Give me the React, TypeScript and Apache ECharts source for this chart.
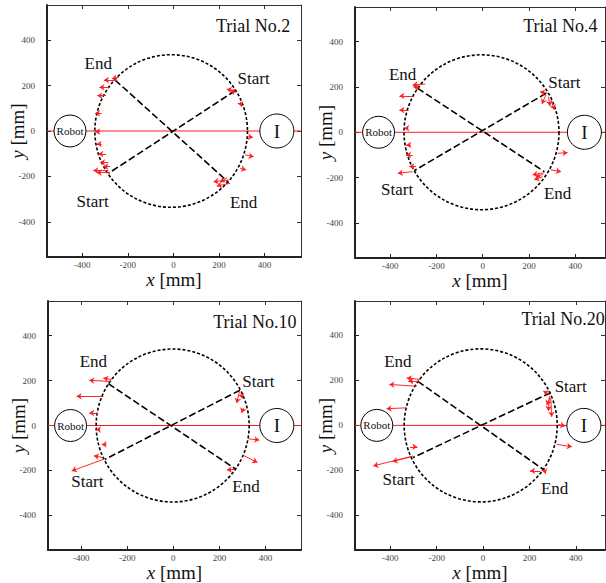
import React, { useEffect, useRef } from "react";
import * as echarts from "echarts";

const FONT = "Liberation Serif, Times New Roman, serif";

// ---- data (mm) ----
const trialTitles = ["Trial No.2", "Trial No.4", "Trial No.10", "Trial No.20"];
const tickValues = [-400, -200, 0, 200, 400];

// dashed path circle: [cx, cy, r]
const pathCircles = [
  [-10, 0, 335],
  [-5, 0, 335],
  [-3, 0, 332],
  [-10, 0, 330],
];

// straight trajectories: [x1, y1, x2, y2]
const cross2 = [[-256, 224, 239, -223], [271, 177, -285, -186]];
const cross4 = [[-281, 194, 267, -174], [274, 172, -295, -169]];
const cross10 = [[-282, 186, 272, -195], [289, 157, -297, -151]];
const cross20 = [[-281, 196, 259, -195], [291, 145, -302, -143]];

// robot / object centres on the x axis
const robotX = [-454, -450, -446, -458];
const objectX = [454, 440, 449, 435];

// force arrows: [xTail, yTail, xHead, yHead]
const arrows2 = [
  [-249, 224, -305, 224], [-240, 236, -270, 230], [-278, 192, -325, 192],
  [-296, 155, -334, 155], [-315, 78, -344, 78], [-322, -3, -344, -3],
  [-315, -57, -337, -57], [-296, -101, -330, -101], [-286, -138, -322, -138],
  [-278, -157, -308, -157], [-286, -174, -352, -174], [-278, -183, -337, -183],
  [271, 177, 234, 184], [275, 170, 250, 178], [293, 129, 300, 107],
  [322, -25, 349, -28], [315, -105, 352, -113], [293, -164, 319, -171],
  [242, -215, 176, -223], [249, -230, 190, -242], [235, -205, 205, -225],
];
const arrows4 = [
  [-248, 213, -303, 209], [-270, 196, -300, 201], [-303, 160, -360, 160],
  [-320, 98, -360, 98], [-324, 18, -339, 18], [-310, -56, -331, -56],
  [-303, -100, -331, -100], [-288, -151, -317, -151], [-303, -174, -367, -181],
  [281, 172, 248, 179], [274, 165, 256, 125], [285, 157, 291, 116],
  [295, 143, 310, 99], [324, -93, 367, -90], [295, -166, 339, -174],
  [267, -178, 216, -188], [259, -196, 223, -210], [262, -185, 230, -198],
];
const arrows10 = [
  [-275, 196, -365, 201], [-268, 204, -304, 211], [-304, 130, -420, 130],
  [-326, 56, -365, 56], [-318, -18, -336, -18], [-290, -84, -311, -84],
  [-304, -143, -345, -135], [-304, -151, -441, -202],
  [287, 152, 275, 100], [293, 145, 300, 120], [304, 78, 297, 56],
  [326, -59, 373, -65], [304, -133, 365, -165], [268, -195, 232, -198],
];
const arrows20 = [
  [-272, 204, -329, 211], [-275, 197, -322, 197], [-286, 174, -404, 182],
  [-330, 78, -416, 74], [-315, -95, -283, -95], [-301, -136, -473, -180],
  [-310, -140, -390, -160],
  [289, 137, 260, 152], [286, 130, 282, 64], [292, 122, 296, 38],
  [289, 125, 275, 90], [325, 4, 354, -3], [318, -84, 383, -95],
  [246, -202, 203, -202], [262, -190, 270, -215],
];

// annotation texts: [x, y, text]
const labels2 = [[-330, 297, "End"], [352, 229, "Start"], [-355, -311, "Start"], [308, -314, "End"]];
const labels4 = [[-346, 257, "End"], [353, 219, "Start"], [-370, -254, "Start"], [324, -272, "End"]];
const labels10 = [[-347, 285, "End"], [369, 196, "Start"], [-373, -251, "Start"], [315, -273, "End"]];
const labels20 = [[-367, 285, "End"], [378, 174, "Start"], [-364, -242, "Start"], [309, -281, "End"]];

// title anchor (right edge, centre line)
const titleAnchors = [[513, 461], [497, 469], [535, 462], [525, 473]];

// axis ranges per panel
const xRanges = [[-555, 560], [-552, 529], [-544, 554], [-552, 526]];
const yRanges = [[-554, 554], [-555, 553], [-554, 554], [-554, 553]];

const crosses = [cross2, cross4, cross10, cross20];
const arrowSets = [arrows2, arrows4, arrows10, arrows20];
const labelSets = [labels2, labels4, labels10, labels20];

// ---- layout ----
const grids = [
  { left: 47, top: 5, width: 254, height: 252 },
  { left: 355, top: 7, width: 250, height: 251 },
  { left: 48, top: 301, width: 253, height: 250 },
  { left: 355, top: 301, width: 250, height: 250 },
];

function buildOption() {
  const xAxis: any[] = [];
  const yAxis: any[] = [];
  const series: any[] = [];

  const nameStyle = {
    fontFamily: FONT, fontSize: 19, color: "#111", lineHeight: 19,
    rich: { i: { fontFamily: FONT, fontSize: 19, fontStyle: "italic", color: "#111", lineHeight: 19 } },
  };

  grids.forEach((g, i) => {
    xAxis[i] = {
      gridIndex: i,
      type: "value",
      min: xRanges[i][0],
      max: xRanges[i][1],
      position: "bottom",
      axisLine: { show: true, onZero: false, lineStyle: { color: "#222", width: 2 } },
      axisTick: { show: true, inside: true, length: 4, customValues: tickValues, lineStyle: { color: "#222" } },
      axisLabel: { customValues: tickValues, fontFamily: FONT, fontSize: 9, color: "#444", margin: 3 },
      splitLine: { show: false },
      name: "{i|x} [mm]",
      nameLocation: "middle",
      nameGap: 13,
      nameMoveOverlap: false,
      nameTextStyle: nameStyle,
    };
    xAxis[i + 4] = {
      gridIndex: i,
      type: "value",
      min: xRanges[i][0],
      max: xRanges[i][1],
      position: "top",
      axisLine: { show: true, onZero: false, lineStyle: { color: "#333", width: 1 } },
      axisTick: { show: true, inside: true, length: 4, customValues: tickValues, lineStyle: { color: "#333" } },
      axisLabel: { show: false },
      splitLine: { show: false },
    };
    yAxis[i] = {
      gridIndex: i,
      type: "value",
      min: yRanges[i][0],
      max: yRanges[i][1],
      position: "left",
      axisLine: { show: true, onZero: false, lineStyle: { color: "#222", width: 2 } },
      axisTick: { show: true, inside: true, length: 4, customValues: tickValues, lineStyle: { color: "#222" } },
      axisLabel: { customValues: tickValues, fontFamily: FONT, fontSize: 9, color: "#444", margin: 12 },
      splitLine: { show: false },
      name: "{i|y} [mm]",
      nameLocation: "middle",
      nameGap: 20,
      nameMoveOverlap: false,
      nameTextStyle: nameStyle,
    };
    yAxis[i + 4] = {
      gridIndex: i,
      type: "value",
      min: yRanges[i][0],
      max: yRanges[i][1],
      position: "right",
      axisLine: { show: true, onZero: false, lineStyle: { color: "#333", width: 1 } },
      axisTick: { show: true, inside: true, length: 4, customValues: tickValues, lineStyle: { color: "#333" } },
      axisLabel: { show: false },
      splitLine: { show: false },
    };

    // red line robot -> object
    series.push({
      type: "line",
      xAxisIndex: i,
      yAxisIndex: i,
      data: [[xRanges[i][0], 0], [xRanges[i][1], 0]],
      symbol: "none",
      lineStyle: { color: "#ff1a1a", width: 1 },
      z: 1,
      silent: true,
    });

    // dashed circle path
    series.push({
      type: "custom",
      xAxisIndex: i,
      yAxisIndex: i,
      data: [pathCircles[i]],
      encode: { x: 0, y: 1 },
      silent: true,
      z: 2,
      renderItem: (params: any, api: any) => {
        const c = api.coord([api.value(0), api.value(1)]);
        const s = api.size([api.value(2), api.value(2)]);
        return {
          type: "circle",
          shape: { cx: c[0], cy: c[1], r: s[0] },
          style: { fill: "none", stroke: "#000", lineWidth: 1.6, lineDash: [3, 2] },
        };
      },
    });

    // straight trajectories
    crosses[i].forEach((l) => {
      series.push({
        type: "line",
        xAxisIndex: i,
        yAxisIndex: i,
        data: [[l[0], l[1]], [l[2], l[3]]],
        symbol: "none",
        lineStyle: { color: "#000", width: 1.6, type: [7, 3] },
        z: 3,
        silent: true,
      });
    });

    // force arrows
    series.push({
      type: "lines",
      coordinateSystem: "cartesian2d",
      xAxisIndex: i,
      yAxisIndex: i,
      data: arrowSets[i].map((a) => ({ coords: [[a[0], a[1]], [a[2], a[3]]] })),
      symbol: ["none", "arrow"],
      symbolSize: 5,
      lineStyle: { color: "#ff1a1a", width: 1, opacity: 0.95, curveness: 0 },
      z: 4,
      silent: true,
    });

    // robot & object circles
    series.push({
      type: "custom",
      xAxisIndex: i,
      yAxisIndex: i,
      data: [[robotX[i], 0], [objectX[i], 0]],
      encode: { x: 0, y: 1 },
      silent: true,
      z: 5,
      renderItem: (params: any, api: any) => {
        const c = api.coord([api.value(0), api.value(1)]);
        const isRobot = params.dataIndex === 0;
        return {
          type: "group",
          children: [
            {
              type: "circle",
              shape: { cx: c[0], cy: c[1], r: isRobot ? 16 : 17 },
              style: { fill: "#fff", stroke: "#000", lineWidth: 1 },
            },
            {
              type: "text",
              x: c[0],
              y: c[1],
              style: {
                text: isRobot ? "Robot" : "I",
                fill: "#111",
                fontFamily: FONT,
                fontSize: isRobot ? 11 : 19,
                align: "center",
                verticalAlign: "middle",
              },
            },
          ],
        };
      },
    });

    // Start / End labels
    const labs = labelSets[i];
    series.push({
      type: "custom",
      xAxisIndex: i,
      yAxisIndex: i,
      data: labs.map((l) => [l[0], l[1]]),
      encode: { x: 0, y: 1 },
      silent: true,
      z: 6,
      renderItem: (params: any, api: any) => {
        const c = api.coord([api.value(0), api.value(1)]);
        return {
          type: "text",
          x: c[0],
          y: c[1],
          style: {
            text: String(labs[params.dataIndex][2]),
            fill: "#111",
            fontFamily: FONT,
            fontSize: 17,
            align: "center",
            verticalAlign: "middle",
          },
        };
      },
    });

    // title
    series.push({
      type: "custom",
      xAxisIndex: i,
      yAxisIndex: i,
      data: [titleAnchors[i]],
      encode: { x: 0, y: 1 },
      silent: true,
      z: 6,
      renderItem: (params: any, api: any) => {
        const c = api.coord([api.value(0), api.value(1)]);
        return {
          type: "text",
          x: c[0],
          y: c[1],
          style: {
            text: trialTitles[i],
            fill: "#111",
            fontFamily: FONT,
            fontSize: 18,
            align: "right",
            verticalAlign: "middle",
          },
        };
      },
    });
  });

  return {
    animation: false,
    backgroundColor: "#fff",
    grid: grids.map((g) => ({ ...g, containLabel: false })),
    xAxis,
    yAxis,
    series,
  };
}

export default function App() {
  const ref = useRef<HTMLDivElement>(null);
  useEffect(() => {
    if (!ref.current) return;
    const chart = echarts.init(ref.current, undefined, { renderer: "svg" });
    chart.setOption(buildOption() as any);
    return () => chart.dispose();
  }, []);
  return (
    <div
      ref={ref}
      style={{ position: "fixed", left: 0, top: 0, width: 606, height: 583, background: "#fff" }}
    />
  );
}
